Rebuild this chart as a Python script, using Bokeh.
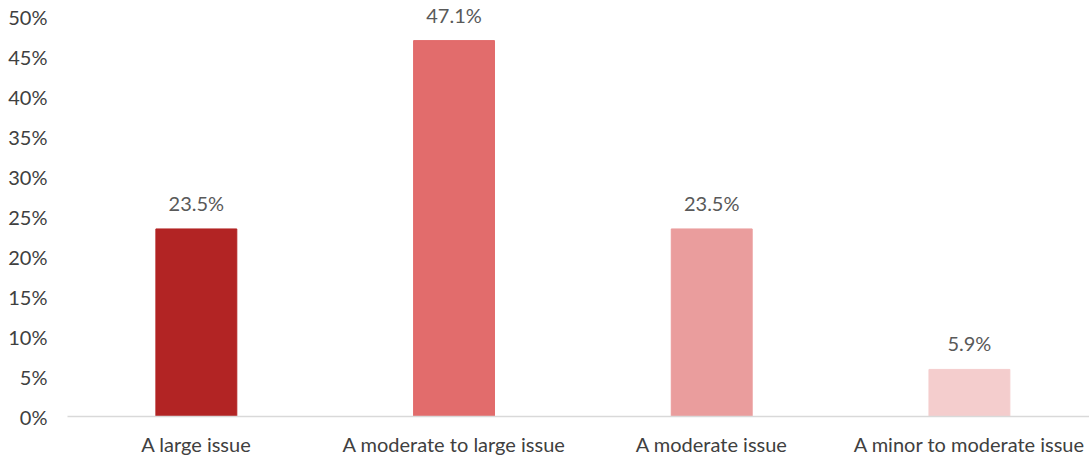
from bokeh.plotting import figure
from bokeh.models import ColumnDataSource, Range1d, FixedTicker, NumeralTickFormatter
from bokeh.core.properties import value
from bokeh.embed import file_html
from bokeh.resources import INLINE

categories = ["A large issue", "A moderate to large issue", "A moderate issue", "A minor to moderate issue"]
shares = [0.235, 0.471, 0.235, 0.059]
bar_labels = ["23.5%", "47.1%", "23.5%", "5.9%"]
colors = ["#B22424", "#E26C6C", "#EA9D9D", "#F4CDCD"]

FONT = "Lato"

positions = list(range(len(categories)))
src = ColumnDataSource(dict(x=positions, top=shares, label=bar_labels, color=colors))

# frame spans the full height above the category axis so the tallest label is not clipped
p = figure(width=1089, height=458, output_backend="svg", toolbar_location=None,
           x_range=Range1d(-0.5, 3.466), y_range=Range1d(0, 0.52125),
           min_border_left=67, min_border_right=0, min_border_top=0, min_border_bottom=41)

p.vbar(x="x", top="top", width=0.314, color="color", source=src)
p.text(x="x", y="top", text="label", source=src, text_align="center", text_baseline="bottom",
       y_offset=-14, text_font=value(FONT), text_font_size="20px", text_color="#595959")

p.xgrid.visible = False
p.ygrid.visible = False
p.outline_line_color = None

p.yaxis.ticker = FixedTicker(ticks=[i * 0.05 for i in range(11)])
p.yaxis.formatter = NumeralTickFormatter(format="0%")
p.yaxis.axis_line_color = None
p.yaxis.major_tick_line_color = None
p.yaxis.minor_tick_line_color = None
p.yaxis.major_tick_out = 0
p.yaxis.major_tick_in = 0
p.yaxis.major_label_standoff = 20
p.yaxis.major_label_text_font = FONT
p.yaxis.major_label_text_font_size = "20px"
p.yaxis.major_label_text_color = "#404040"

p.xaxis.ticker = FixedTicker(ticks=positions)
p.xaxis.major_label_overrides = {i: c for i, c in zip(positions, categories)}
p.xaxis.axis_line_color = "#D9D9D9"
p.xaxis.axis_line_width = 1.5
p.xaxis.major_tick_line_color = None
p.xaxis.minor_tick_line_color = None
p.xaxis.major_tick_out = 0
p.xaxis.major_tick_in = 0
p.xaxis.major_label_standoff = 15
p.xaxis.major_label_text_font = FONT
p.xaxis.major_label_text_font_size = "20px"
p.xaxis.major_label_text_color = "#404040"

open("out.html", "w").write(file_html(p, INLINE))
